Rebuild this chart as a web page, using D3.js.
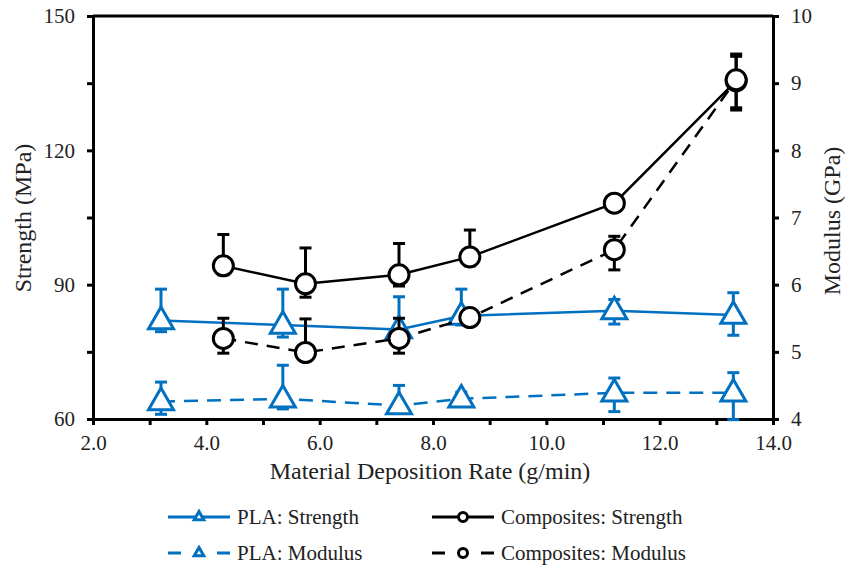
<!DOCTYPE html>
<meta charset="utf-8">
<style>
body { margin: 0; background: #fff; }
.axis path, .axis line { stroke: #000; stroke-width: 3; }
</style>
<body></body>
<script src="https://d3js.org/d3.v7.min.js"></script>
<script>
// PLA series (x in g/min)
var plaRate = [3.2, 5.35, 7.4, 8.5, 11.2, 13.3];
var plaStrength = [82, 81, 80, 83, 84.2, 83.2];
var plaStrengthUp = [7, 8, 7.3, 6, 2.5, 5];
var plaStrengthDown = [2.5, 2.7, 2.5, 2, 3, 4.5];
var plaModulus = [4.26, 4.3, 4.2, 4.3, 4.39, 4.39];
var plaModulusUp = [0.29, 0.5, 0.3, 0.1, 0.22, 0.3];
var plaModulusDown = [0.19, 0.15, 0.1, 0.1, 0.28, 0.4];

// Composites series
var compRate = [4.3, 5.75, 7.4, 8.65, 11.2, 13.35];
var compStrength = [94.2, 90.2, 92.2, 96.2, 108.2, 135.5];
var compStrengthUp = [7, 8, 7, 6, 1.8, 6];
var compStrengthDown = [2, 3, 2.5, 2, 1.8, 6];
var compModulus = [5.2, 4.99, 5.2, 5.51, 6.52, 9.05];
var compModulusUp = [0.3, 0.5, 0.3, 0.1, 0.2, 0.35];
var compModulusDown = [0.22, 0.1, 0.22, 0.1, 0.3, 0.45];

var xTicks = [2, 3, 4, 5, 6, 7, 8, 9, 10, 11, 12, 13, 14];
var leftTicks = [60, 75, 90, 105, 120, 135, 150];
var rightTicks = [4, 5, 6, 7, 8, 9, 10];

var blue = "#0070C0", black = "#000", textColor = "#222";
var serif = "Liberation Serif";

var width = 856, height = 569;
var plot = {left: 93, right: 773, top: 16, bottom: 419};

var svg = d3.select("body").append("svg")
    .attr("width", width)
    .attr("height", height);

var x = d3.scaleLinear().domain([2, 14]).range([plot.left, plot.right]);
var yL = d3.scaleLinear().domain([60, 150]).range([plot.bottom, plot.top]);
var yR = d3.scaleLinear().domain([4, 10]).range([plot.bottom, plot.top]);

// top border
svg.append("line")
    .attr("x1", plot.left).attr("x2", plot.right)
    .attr("y1", plot.top).attr("y2", plot.top)
    .attr("stroke", "#000").attr("stroke-width", 3);

function styleAxis(g) {
  g.selectAll("text")
      .style("font-family", serif)
      .style("font-size", "21px")
      .style("fill", textColor);
}

svg.append("g").attr("class", "axis")
    .attr("transform", "translate(0," + plot.bottom + ")")
    .call(d3.axisBottom(x).tickValues(xTicks).tickSize(6).tickSizeOuter(0).tickPadding(10)
      .tickFormat(function(d) { return d % 2 == 0 ? d3.format(".1f")(d) : ""; }))
    .call(styleAxis);

svg.append("g").attr("class", "axis")
    .attr("transform", "translate(" + plot.left + ",0)")
    .call(d3.axisLeft(yL).tickValues(leftTicks).tickSize(6).tickSizeOuter(0).tickPadding(12)
      .tickFormat(function(d) { return d % 30 == 0 ? d : ""; }))
    .call(styleAxis);

svg.append("g").attr("class", "axis")
    .attr("transform", "translate(" + plot.right + ",0)")
    .call(d3.axisRight(yR).tickValues(rightTicks).tickSize(6).tickSizeOuter(0).tickPadding(12)
      .tickFormat(d3.format("d")))
    .call(styleAxis);

// axis titles
function title(sel) {
  sel.style("font-family", serif).style("font-size", "24px").style("fill", textColor)
     .attr("text-anchor", "middle");
}

svg.append("text")
    .attr("x", 430).attr("y", 479)
    .text("Material Deposition Rate (g/min)")
    .call(title);

svg.append("text")
    .attr("transform", "translate(31,218) rotate(-90)")
    .text("Strength (MPa)")
    .call(title);

svg.append("text")
    .attr("transform", "translate(840,221) rotate(-90)")
    .text("Modulus (GPa)")
    .call(title);

var tri = d3.symbol().type(d3.symbolTriangle).size(270);

function drawSeries(xs, ys, up, down, yScale, color, dash, marker) {
  var data = xs.map(function(d, i) { return {x: d, y: ys[i], up: up[i], down: down[i]}; });
  var line = d3.line()
      .x(function(d) { return x(d.x); })
      .y(function(d) { return yScale(d.y); });
  var g = svg.append("g");
  g.append("path")
      .datum(data)
      .attr("d", line)
      .attr("fill", "none")
      .attr("stroke", color)
      .attr("stroke-width", 2.5)
      .attr("stroke-dasharray", dash);

  var eb = g.selectAll(".eb").data(data).enter().append("g");
  eb.append("line")
      .attr("x1", function(d) { return x(d.x); })
      .attr("x2", function(d) { return x(d.x); })
      .attr("y1", function(d) { return yScale(d.y + d.up); })
      .attr("y2", function(d) { return yScale(d.y - d.down); })
      .attr("stroke", color).attr("stroke-width", 3);
  [function(d) { return d.y + d.up; }, function(d) { return d.y - d.down; }].forEach(function(f) {
    eb.append("line")
        .attr("x1", function(d) { return x(d.x) - 6; })
        .attr("x2", function(d) { return x(d.x) + 6; })
        .attr("y1", function(d) { return yScale(f(d)); })
        .attr("y2", function(d) { return yScale(f(d)); })
        .attr("stroke", color).attr("stroke-width", 3);
  });

  if (marker == "tri") {
    g.selectAll(".m").data(data).enter().append("path")
        .attr("d", tri)
        .attr("transform", function(d) { return "translate(" + x(d.x) + "," + (yScale(d.y) + 1) + ")"; })
        .attr("fill", "#fff").attr("stroke", color).attr("stroke-width", 3);
  } else {
    g.selectAll(".m").data(data).enter().append("circle")
        .attr("cx", function(d) { return x(d.x); })
        .attr("cy", function(d) { return yScale(d.y); })
        .attr("r", 10)
        .attr("fill", "#fff").attr("stroke", color).attr("stroke-width", 3);
  }
}

drawSeries(plaRate, plaStrength, plaStrengthUp, plaStrengthDown, yL, blue, null, "tri");
drawSeries(plaRate, plaModulus, plaModulusUp, plaModulusDown, yR, blue, "14,9", "tri");
drawSeries(compRate, compStrength, compStrengthUp, compStrengthDown, yL, black, null, "circ");
drawSeries(compRate, compModulus, compModulusUp, compModulusDown, yR, black, "13,9", "circ");

// legend
var legendItems = [
  {label: "PLA: Strength", color: blue, dash: null, marker: "tri", lx: 168, ly: 517},
  {label: "Composites: Strength", color: black, dash: null, marker: "circ", lx: 432, ly: 517},
  {label: "PLA: Modulus", color: blue, dash: "13,36,13", marker: "tri", lx: 168, ly: 553},
  {label: "Composites: Modulus", color: black, dash: "13,36,13", marker: "circ", lx: 432, ly: 553}
];
var smallTri = d3.symbol().type(d3.symbolTriangle).size(40);
var lg = svg.append("g");
legendItems.forEach(function(it) {
  var g = lg.append("g").attr("transform", "translate(" + it.lx + "," + it.ly + ")");
  g.append("line").attr("x1", 0).attr("x2", 62).attr("y1", 0).attr("y2", 0)
      .attr("stroke", it.color).attr("stroke-width", 3)
      .attr("stroke-dasharray", it.dash);
  if (it.marker == "tri") {
    g.append("path").attr("d", smallTri).attr("transform", "translate(31,0)")
        .attr("fill", "#fff").attr("stroke", it.color).attr("stroke-width", 3);
  } else {
    g.append("circle").attr("cx", 31).attr("cy", 0).attr("r", 4.5)
        .attr("fill", "#fff").attr("stroke", it.color).attr("stroke-width", 3);
  }
  g.append("text").attr("x", 69).attr("y", 7)
      .style("font-family", serif).style("font-size", "21px").style("fill", textColor)
      .text(it.label);
});
</script>
